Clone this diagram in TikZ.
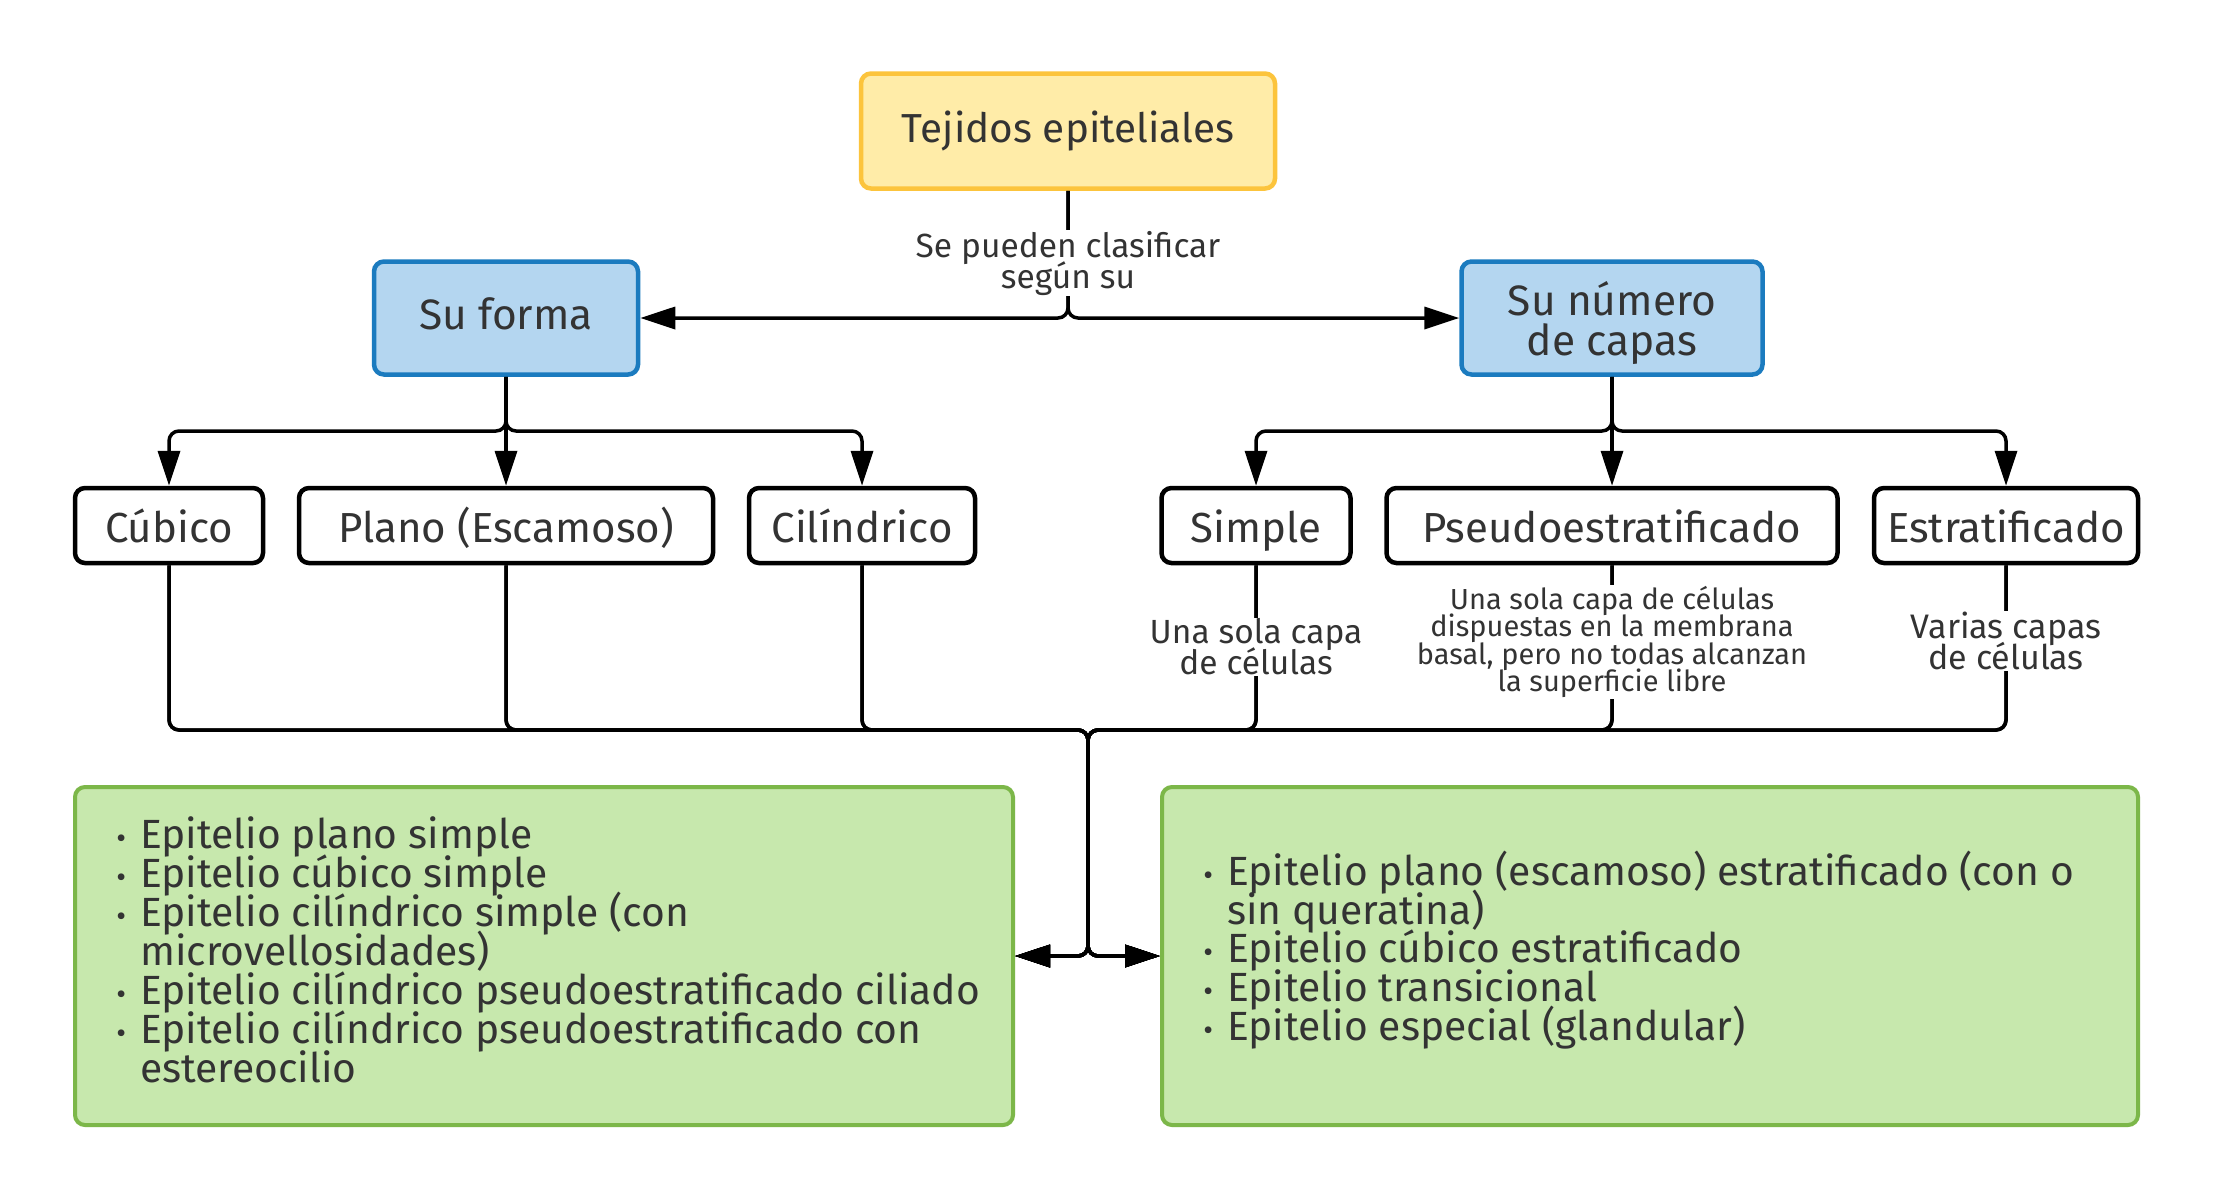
\documentclass[tikz,border=0pt]{standalone}
\usepackage{fontspec}
\setmainfont{Fira Sans}
\usetikzlibrary{arrows.meta}
\definecolor{txt}{HTML}{333333}
\definecolor{yelfill}{HTML}{FFECA8}
\definecolor{yeldraw}{HTML}{FCC43C}
\definecolor{bluefill}{HTML}{B4D6F0}
\definecolor{bluedraw}{HTML}{1B7BBF}
\definecolor{grnfill}{HTML}{C7E8AD}
\definecolor{grndraw}{HTML}{7CB749}
\newcommand{\fsz}[2]{\fontsize{#1}{#2}\selectfont\lineskiplimit=-100pt\relax}
\newcommand{\bul}{\llap{{\fsz{30}{30}\textbullet}\hspace{14pt}}}
\begin{document}
\begin{tikzpicture}[x=1pt,y=-1pt,
  every node/.style={text=txt},
  bigbox/.style={rounded corners=10pt, line width=4.5pt, inner sep=0pt, align=center},
  topbox/.style={bigbox, fill=yelfill, draw=yeldraw, font=\fsz{40.5}{44}},
  midbox/.style={bigbox, fill=bluefill, draw=bluedraw, font=\fsz{42.5}{44}},
  leafbox/.style={bigbox, fill=white, draw=black, minimum height=75pt, font=\fsz{42}{44}, text height=34pt, text depth=0pt},
  resbox/.style={rounded corners=10pt, line width=4pt, fill=grnfill, draw=grndraw, minimum height=338pt},
  lbl/.style={fill=white, inner sep=1pt, align=center},
  conn/.style={draw=black, line width=3.5pt, rounded corners=10pt},
  arr/.style={-{Triangle[length=35pt,width=22pt]}},
  item/.style={anchor=base west, inner sep=0pt, font=\fsz{40.8}{41}}
]
\useasboundingbox (0,0) rectangle (2213,1200);
\fill[white] (0,0) rectangle (2213,1200);

% boxes
\node[topbox, minimum width=414pt, minimum height=115pt] (tej) at (1068,131) {Tejidos epiteliales};
\node[midbox, minimum width=264pt, minimum height=113pt, text height=30pt, text depth=8pt] (sf) at (506,318) {Su forma};
\node[midbox, minimum width=301pt, minimum height=113pt] (sn) at (1612,318) {\rule{0pt}{44pt}Su número\\[-4.5pt]de capas};

\node[leafbox, minimum width=188pt] (cub) at (169,525.5) {Cúbico};
\node[leafbox, minimum width=414pt] (pla) at (506,525.5) {Plano (Escamoso)};
\node[leafbox, minimum width=226pt] (cil) at (862,525.5) {Cilíndrico};
\node[leafbox, minimum width=189pt] (sim) at (1256,525.5) {Simple};
\node[leafbox, minimum width=451pt] (pse) at (1612,525.5) {Pseudoestratificado};
\node[leafbox, minimum width=264pt] (est) at (2006,525.5) {Estratificado};

\node[resbox, minimum width=938pt] (gl) at (544,956) {};
\node[resbox, minimum width=976pt] (gr) at (1650,956) {};

% connectors
\draw[conn,arr] (tej.south) -- (1068,318) -- (sf.east);
\draw[conn,arr] (tej.south) -- (1068,318) -- (sn.west);

\draw[conn,arr] (sf.south) -- (506,431) -| (cub.north);
\draw[conn,arr] (sf.south) -- (pla.north);
\draw[conn,arr] (sf.south) -- (506,431) -| (cil.north);
\draw[conn,arr] (sn.south) -- (1612,431) -| (sim.north);
\draw[conn,arr] (sn.south) -- (pse.north);
\draw[conn,arr] (sn.south) -- (1612,431) -| (est.north);

\foreach \b in {cub,pla,cil,sim,pse,est} {
  \draw[conn,arr] (\b.south) |- (1088,730) |- (gl.east);
  \draw[conn,arr] (\b.south) |- (1088,730) |- (gr.west);
}

% labels
\node[lbl, font=\fsz{33.5}{31}] (lclas) at (1068,263) {Se pueden clasificar\\según su};
\node[lbl, font=\fsz{33.5}{31}] (lsim) at (1256,647) {Una sola capa\\de células};
\node[lbl, font=\fsz{29}{27.5}] (lpse) at (1612,642) {Una sola capa de células\\dispuestas en la membrana\\basal, pero no todas alcanzan\\la superficie libre};
\node[lbl, font=\fsz{34}{31}] (lest) at (2006,641) {Varias capas\\de células};

% list left
\node[item] (l1) at (140,848) {\bul Epitelio plano simple};
\node[item] (l2) at (140,887) {\bul Epitelio cúbico simple};
\node[item] (l3) at (140,926) {\bul Epitelio cilíndrico simple (con};
\node[item] (l4) at (140,965) {microvellosidades)};
\node[item] (l5) at (140,1004) {\bul Epitelio cilíndrico pseudoestratificado ciliado};
\node[item] (l6) at (140,1043) {\bul Epitelio cilíndrico pseudoestratificado con};
\node[item] (l7) at (140,1082) {estereocilio};

% list right
\node[item] (r1) at (1227,885) {\bul Epitelio plano (escamoso) estratificado (con o};
\node[item] (r2) at (1227,924) {sin queratina)};
\node[item] (r3) at (1227,962.5) {\bul Epitelio cúbico estratificado};
\node[item] (r4) at (1227,1001.5) {\bul Epitelio transicional};
\node[item] (r5) at (1227,1040) {\bul Epitelio especial (glandular)};
\end{tikzpicture}
\end{document}
